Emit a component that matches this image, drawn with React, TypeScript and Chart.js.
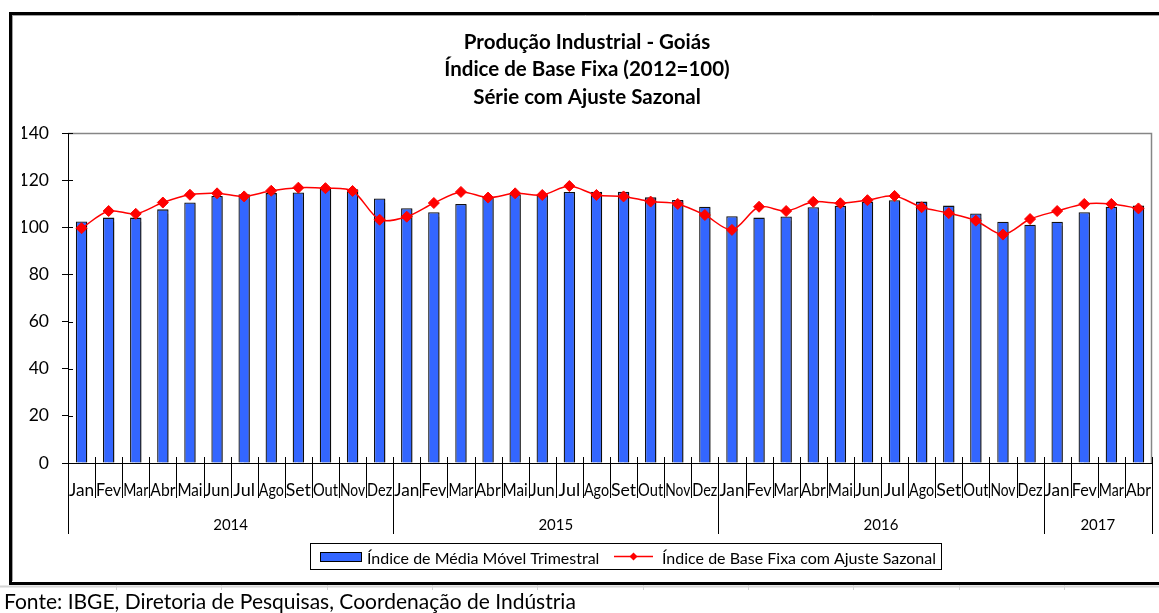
import React, { useEffect, useRef } from 'react';
import { Chart, registerables } from 'chart.js';

Chart.register(...registerables);

// ---- Data ----
const MONTHS = ['Jan', 'Fev', 'Mar', 'Abr', 'Mai', 'Jun', 'Jul', 'Ago', 'Set', 'Out', 'Nov', 'Dez'];
const YEARS = ['2014', '2015', '2016', '2017'];
const MONTHS_PER_YEAR = [12, 12, 12, 4];
const Y_TICKS = [0, 20, 40, 60, 80, 100, 120, 140];

const MEDIA_MOVEL_TRIMESTRAL = [
  102.5, 104.1, 104.1, 107.6, 110.5, 113.3, 114.0, 114.5, 114.8, 116.2, 116.1, 112.2,
  108.1, 106.4, 109.9, 112.6, 114.0, 113.7, 115.0, 115.1, 115.1, 112.7, 111.6, 108.7,
  104.7, 104.1, 104.6, 108.5, 109.1, 110.9, 111.5, 110.9, 109.2, 105.9, 102.4, 101.1,
  102.4, 106.4, 108.7, 109.2,
];
const BASE_FIXA_AJUSTE = [
  99.6, 106.9, 105.7, 110.5, 113.8, 114.4, 113.1, 115.5, 116.8, 116.6, 115.4, 103.2,
  104.5, 110.3, 115.0, 112.6, 114.4, 113.7, 117.5, 113.7, 113.1, 110.9, 109.9, 105.2,
  98.9, 108.7, 106.9, 110.8, 110.2, 111.5, 113.3, 108.5, 106.0, 102.8, 96.9, 103.5,
  106.9, 109.9, 109.9, 108.0,
];

const BAR_LABEL = 'Índice de Média Móvel Trimestral';
const LINE_LABEL = 'Índice de Base Fixa com Ajuste Sazonal';
const TITLE_LINES = ['Produção Industrial - Goiás', 'Índice de Base Fixa (2012=100)', 'Série com Ajuste Sazonal'];
const SOURCE_TEXT = 'Fonte: IBGE, Diretoria de Pesquisas, Coordenação de Indústria';

const BAR_COLOR = '#3366FF';
const LINE_COLOR = '#FF0000';
const FONT = 'Lato, "Open Sans", sans-serif';

const CATEGORIES: string[] = YEARS.flatMap((y, i) =>
  MONTHS.slice(0, MONTHS_PER_YEAR[i]).map((m) => `${m} ${y}`)
);

const decorPlugin = {
  id: 'decor',
  beforeDraw(chart: any) {
    const ctx = chart.ctx as CanvasRenderingContext2D;
    const W = chart.width;
    ctx.save();
    ctx.fillStyle = '#ffffff';
    ctx.fillRect(0, 0, W, chart.height);
    // outer frame
    ctx.strokeStyle = '#000';
    ctx.lineWidth = 3;
    ctx.strokeRect(10.5, 13.5, 1400, 570);
    ctx.strokeStyle = '#a0a0a0';
    ctx.lineWidth = 1;
    ctx.beginPath();
    ctx.moveTo(12.5, 15);
    ctx.lineTo(12.5, 581);
    ctx.moveTo(12, 15.5);
    ctx.lineTo(W, 15.5);
    ctx.stroke();
    // light sheet grid below frame
    ctx.strokeStyle = '#d4d4d4';
    ctx.lineWidth = 2;
    ctx.beginPath();
    ctx.moveTo(0, 586.5);
    ctx.lineTo(W, 586.5);
    ctx.stroke();
    ctx.lineWidth = 1;
    ctx.beginPath();
    for (let x = 116; x < W; x += 105.35) {
      const px = Math.round(x) + 0.5;
      ctx.moveTo(px, 585);
      ctx.lineTo(px, 590);
    }
    ctx.stroke();
    // plot area border (top + right)
    const a = chart.chartArea;
    ctx.strokeStyle = '#868686';
    ctx.lineWidth = 1.5;
    ctx.beginPath();
    ctx.moveTo(a.left, a.top + 0.5);
    ctx.lineTo(a.right - 0.5, a.top + 0.5);
    ctx.lineTo(a.right - 0.5, a.bottom);
    ctx.stroke();
    ctx.restore();
  },
  beforeDatasetDraw(chart: any, args: any) {
    if (args.index === 0) {
      const ctx = chart.ctx as CanvasRenderingContext2D;
      ctx.save();
      ctx.shadowColor = 'rgba(0,0,0,0.3)';
      ctx.shadowOffsetX = 2;
      ctx.shadowOffsetY = 1;
      ctx.shadowBlur = 1;
    }
  },
  afterDatasetDraw(chart: any, args: any) {
    if (args.index === 0) chart.ctx.restore();
  },
  afterDraw(chart: any) {
    const ctx = chart.ctx as CanvasRenderingContext2D;
    const xs = chart.scales.x;
    const ys = chart.scales.y;
    const a = chart.chartArea;
    ctx.save();
    ctx.strokeStyle = '#000';
    ctx.fillStyle = '#000';
    ctx.lineWidth = 1;

    // y ticks crossing into plot area
    ctx.beginPath();
    ys.ticks.forEach((t: any) => {
      const py = Math.round(ys.getPixelForValue(t.value)) + 0.5;
      ctx.moveTo(a.left, py);
      ctx.lineTo(a.left + 5, py);
    });
    ctx.stroke();

    // x axis: month separators, month labels, year labels
    const n = CATEGORIES.length;
    const half = (xs.getPixelForValue(1) - xs.getPixelForValue(0)) / 2;
    const yearBounds: number[] = [0];
    MONTHS_PER_YEAR.forEach((c, i) => yearBounds.push(yearBounds[i] + c));
    const bx = (k: number) => (k < n ? xs.getPixelForValue(k) - half : xs.getPixelForValue(n - 1) + half);
    ctx.beginPath();
    for (let k = 0; k <= n; k++) {
      const px = Math.round(bx(k)) + 0.5;
      const isYear = yearBounds.includes(k);
      ctx.moveTo(px, a.bottom - 6);
      ctx.lineTo(px, isYear ? a.bottom + 71 : a.bottom + 35);
    }
    ctx.stroke();

    ctx.textAlign = 'center';
    ctx.textBaseline = 'alphabetic';
    ctx.font = `18px ${FONT}`;
    CATEGORIES.forEach((c, i) => {
      const name = c.split(' ')[0];
      ctx.fillText(name, xs.getPixelForValue(i), a.bottom + 33, half * 2 - 2);
    });
    ctx.font = `15px ${FONT}`;
    YEARS.forEach((y, i) => {
      const cx = (bx(yearBounds[i]) + bx(yearBounds[i + 1])) / 2;
      ctx.fillText(y, cx, a.bottom + 67);
    });

    // legend
    const ds = chart.data.datasets;
    ctx.lineWidth = 1;
    ctx.strokeStyle = '#000';
    ctx.strokeRect(310.5, 543.5, 631, 26);
    ctx.fillStyle = ds[0].backgroundColor;
    ctx.fillRect(320, 552, 42, 10);
    ctx.strokeRect(320.5, 552.5, 41, 9);
    ctx.fillStyle = '#000';
    ctx.textAlign = 'left';
    ctx.font = `16px ${FONT}`;
    ctx.fillText(ds[0].label, 367, 563.5);
    ctx.strokeStyle = ds[1].borderColor;
    ctx.lineWidth = 1.5;
    ctx.beginPath();
    ctx.moveTo(614, 556.5);
    ctx.lineTo(653, 556.5);
    ctx.stroke();
    ctx.fillStyle = ds[1].borderColor;
    ctx.beginPath();
    ctx.moveTo(633.5, 552.5);
    ctx.lineTo(637.5, 556.5);
    ctx.lineTo(633.5, 560.5);
    ctx.lineTo(629.5, 556.5);
    ctx.closePath();
    ctx.fill();
    ctx.fillStyle = '#000';
    ctx.fillText(ds[1].label, 662, 563.5);

    // footer
    ctx.font = `21px ${FONT}`;
    ctx.fillText(SOURCE_TEXT, 4, 609);
    ctx.restore();
  },
};

export default function App() {
  const ref = useRef<HTMLCanvasElement | null>(null);
  useEffect(() => {
    if (!ref.current) return;
    const chart = new Chart(ref.current, {
      type: 'bar',
      data: {
        labels: CATEGORIES,
        datasets: [
          {
            type: 'bar',
            label: BAR_LABEL,
            data: MEDIA_MOVEL_TRIMESTRAL,
            backgroundColor: BAR_COLOR,
            borderColor: '#111111',
            borderWidth: 1.3,
            categoryPercentage: 1,
            barPercentage: 0.42,
            order: 1,
          },
          {
            type: 'line',
            label: LINE_LABEL,
            data: BASE_FIXA_AJUSTE,
            borderColor: LINE_COLOR,
            backgroundColor: LINE_COLOR,
            borderWidth: 1.5,
            tension: 0.3,
            pointStyle: 'rectRot',
            pointRadius: 5.5,
            pointBorderWidth: 1,
            pointBackgroundColor: LINE_COLOR,
            pointBorderColor: LINE_COLOR,
            order: 0,
          } as any,
        ],
      },
      options: {
        responsive: false,
        maintainAspectRatio: false,
        animation: false,
        devicePixelRatio: 1,
        layout: { padding: { left: 22, right: 7, top: 0, bottom: 0 } },
        plugins: {
          legend: { display: false },
          tooltip: { enabled: false },
          title: {
            display: true,
            text: TITLE_LINES,
            color: '#000',
            font: { family: FONT, size: 20.5, weight: 'bold', lineHeight: 27.5 / 20.5 },
            padding: { top: 28.25, bottom: 22.25 },
          },
        },
        scales: {
          x: {
            offset: true,
            ticks: { display: false },
            grid: { display: false },
            border: { display: true, color: '#000', width: 1 },
            afterFit: (s: any) => {
              s.height = 150;
            },
          },
          y: {
            min: 0,
            max: 140,
            afterBuildTicks: (s: any) => {
              s.ticks = Y_TICKS.map((v) => ({ value: v }));
            },
            ticks: { color: '#000', padding: 13, font: { family: FONT, size: 17.5 } },
            grid: { drawOnChartArea: false, drawTicks: true, tickLength: 6, color: '#000' },
            border: { display: true, color: '#000', width: 1 },
            afterFit: (s: any) => {
              s.width = 46;
            },
          },
        },
      },
      plugins: [decorPlugin],
    });
    return () => chart.destroy();
  }, []);
  return (
    <div style={{ position: 'fixed', left: 0, top: 0, width: 1159, height: 613, background: '#fff' }}>
      <canvas ref={ref} width={1159} height={613} style={{ display: 'block', width: 1159, height: 613 }} />
    </div>
  );
}
